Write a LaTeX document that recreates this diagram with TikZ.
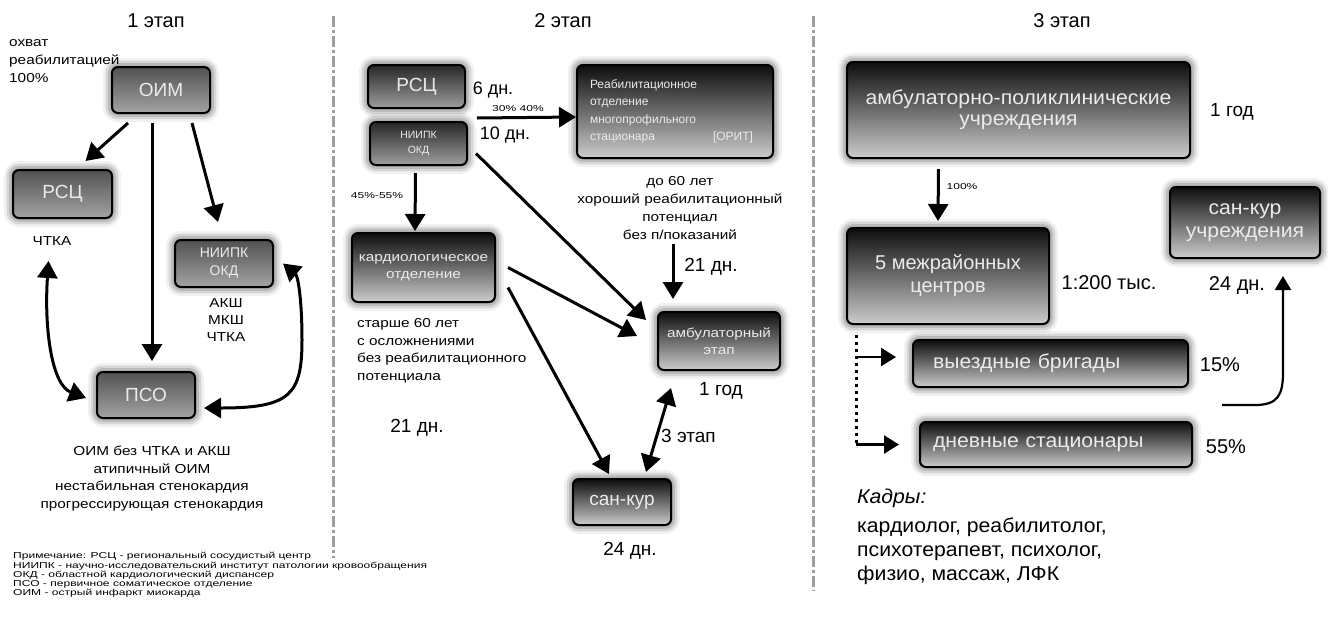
\documentclass[tikz,border=0pt]{standalone}
\usepackage{fontspec}
\setmainfont{Liberation Sans}
\newfontfamily\wf[FakeStretch=1.18]{Liberation Sans}
\newfontfamily\nf[FakeStretch=1.4]{Liberation Sans}
\newfontfamily\mf[FakeStretch=1.06]{Liberation Sans}
\usetikzlibrary{arrows.meta,shadows.blur}
\newcommand\fz[2]{\fontsize{#1}{#2}\selectfont}
\begin{document}
\begin{tikzpicture}[x=1pt,y=-1pt,
  glow/.style={blur shadow={shadow xshift=0pt,shadow yshift=0pt,shadow blur radius=9pt,shadow opacity=85}},
  lbox/.style={draw=black,line width=2pt,rounded corners=6pt,top color=black!68,bottom color=black!36,text=white!92!black,glow,inner sep=0pt,align=center},
  mbox/.style={lbox,top color=black!85,bottom color=black!38},
  dbox/.style={lbox,top color=black!95,bottom color=black!20},
  arr/.style={line width=3pt,-{Triangle[length=17pt,width=20pt]}},
  arrb/.style={line width=2.5pt,-{Triangle[length=15pt,width=18pt]}},
  arrc/.style={line width=2.2pt,-{Triangle[length=14pt,width=16pt]}},
  dbl/.style={line width=3pt,{Triangle[length=17pt,width=20pt]}-{Triangle[length=17pt,width=20pt]}},
  lab/.style={inner sep=0pt,align=center},
  divider/.style={draw=black!38,line width=3pt,dash pattern=on 11pt off 3pt on 3pt off 3pt}
]
\useasboundingbox (0,0) rectangle (1328,619);

% dividers
\draw[divider] (333,16) -- (333,558);
\draw[divider] (813,16) -- (813,591);

% ---------------- stage 1
\node[lab,font=\fz{20}{24}] (t1) at (156,21) {1 этап};
\node[lab,anchor=west,align=left,font=\wf\fz{13}{18}] (cov) at (9,61) {охват\\реабилитацией\\100\%};
\node[lbox,minimum width=98pt,minimum height=46pt,font=\fz{19}{22}] (oim) at (161,90) {ОИМ};
\node[lbox,minimum width=99pt,minimum height=48pt,font=\fz{19}{22}] (rsc1) at (62.5,194) {РСЦ};
\node[lab,font=\wf\fz{13}{17}] (chtka1) at (52,241) {ЧТКА};
\node[lbox,minimum width=98pt,minimum height=47pt,font=\fz{14}{18}] (niipk1) at (224,263.5) {НИИПК\\ОКД};
\node[lab,font=\wf\fz{13}{17}] (ops) at (226,320) {АКШ\\МКШ\\ЧТКА};
\node[lbox,minimum width=98pt,minimum height=46pt,font=\fz{19}{22}] (pso) at (146,395) {ПСО};
\node[lab,font=\wf\fz{13}{17.5}] (psotxt) at (152,478.5) {ОИМ без ЧТКА и АКШ\\атипичный ОИМ\\нестабильная стенокардия\\прогрессирующая стенокардия};
\node[lab,anchor=west,align=left,font=\nf\fz{8.6}{9.2}] (notes) at (13,575) {Примечание: РСЦ - региональный сосудистый центр\\НИИПК - научно-исследовательский институт патологии кровообращения\\ОКД - областной кардиологический диспансер\\ПСО - первичное соматическое отделение\\ОИМ - острый инфаркт миокарда};

\draw[arr] ([xshift=-33pt,yshift=-9pt]oim.south) -- ([xshift=23pt,yshift=8pt]rsc1.north);
\draw[arr] ([xshift=-9pt,yshift=-9pt]oim.south) -- ([xshift=6pt,yshift=10pt]pso.north);
\draw[arr] ([xshift=31pt,yshift=-9pt]oim.south) -- ([xshift=-6pt,yshift=17pt]niipk1.north);
\draw[dbl] ([xshift=-14pt,yshift=-42pt]rsc1.south) .. controls (44,330) and (52,385) .. ([xshift=-10pt,yshift=-3pt]pso.west);
\draw[dbl] ([xshift=9pt]niipk1.east) .. controls (298,276) and (302,300) .. (302,340) .. controls (302,395) and (290,408) .. ([xshift=8pt,yshift=-13pt]pso.east);

% ---------------- stage 2
\node[lab,font=\fz{20}{24}] (t2) at (563,21) {2 этап};
\node[mbox,minimum width=97pt,minimum height=43pt,font=\fz{19}{22}] (rsc2) at (416.5,86.5) {РСЦ};
\node[mbox,minimum width=97pt,minimum height=43pt,font=\fz{10.5}{15}] (niipk2) at (418.5,143.5) {НИИПК\\ОКД};
\node[lab,font=\fz{18}{22}] (d6) at (493,90) {6 дн.};
\node[lab,font=\fz{18}{22}] (d10) at (505,135) {10 дн.};
\node[lab,font=\nf\fz{8.6}{9}] (p3040) at (518,109) {30\% 40\%};
\node[dbox,minimum width=196pt,minimum height=93pt,text width=170pt,align=left,font=\fz{12}{17.5}] (reab) at (675,111.5) {Реабилитационное\\отделение\\многопрофильного\\стационара};
\node[lab,font=\fz{12}{14},text=white!92!black] (orit) at (733,137) {[ОРИТ]};
\draw[arr] ([xshift=11pt,yshift=-9pt]rsc2.south east) -- ([yshift=-5.5pt]reab.west);

\node[lab,font=\wf\fz{13}{18}] (crit) at (680,208.5) {до 60 лет\\хороший реабилитационный\\потенциал\\без п/показаний};
\node[lab,font=\fz{19}{22}] (d21a) at (711,267) {21 дн.};
\node[dbox,minimum width=122pt,minimum height=58pt,font=\wf\fz{13}{17}] (amb) at (719,341) {амбулаторный\\этап};
\draw[arr] ([xshift=-7pt,yshift=-4pt]crit.south) -- ([xshift=-46pt,yshift=12pt]amb.north);
\node[lab,font=\fz{19}{22}] (y1a) at (721,391) {1 год};
\node[dbox,minimum width=98pt,minimum height=46pt,font=\fz{19}{22}] (sankur) at (622,502) {сан-кур};
\node[lab,font=\fz{19}{22}] (d24a) at (630,551) {24 дн.};
\draw[dbl] ([xshift=-48pt,yshift=-17pt]amb.south) -- ([xshift=24pt,yshift=6pt]sankur.north);
\node[lab,anchor=west,font=\fz{19}{22}] (st3) at (661,436) {3 этап};

\node[lab,font=\nf\fz{8.6}{9}] (p4555) at (377,196) {45\%-55\%};
\node[dbox,minimum width=143pt,minimum height=69pt,font=\wf\fz{13}{16.7}] (kardio) at (423.5,267.5) {кардиологическое\\отделение};
\draw[arr] ([xshift=-3pt,yshift=-7pt]niipk2.south) -- ([xshift=-8.5pt,yshift=1pt]kardio.north);
\draw[arr] ([xshift=8pt,yshift=-10pt]niipk2.east) -- ([xshift=-11pt,yshift=21pt]amb.west);
\draw[arr] ([xshift=12pt]kardio.east) -- ([xshift=-20pt,yshift=5pt]amb.west);
\draw[arr] ([xshift=12pt,yshift=-20pt]kardio.east) -- ([xshift=-13pt,yshift=4pt]sankur.north);
\node[lab,anchor=west,align=left,font=\wf\fz{13}{17.5}] (old) at (357,350.5) {старше 60 лет\\с осложнениями\\без реабилитационного\\потенциала};
\node[lab,font=\fz{19}{22}] (d21b) at (417,428) {21 дн.};

% ---------------- stage 3
\node[lab,font=\fz{20}{24}] (t3) at (1062,21) {3 этап};
\node[dbox,minimum width=343pt,minimum height=96pt,font=\mf\fz{20}{21}] (apu) at (1018.5,110) {амбулаторно-поликлинические\\учреждения};
\node[lab,font=\fz{19}{22}] (y1b) at (1232,112) {1 год};
\node[dbox,minimum width=202pt,minimum height=96pt,font=\fz{20}{23}] (mc5) at (948,276) {5 межрайонных\\центров};
\draw[arr] ([xshift=-80pt,yshift=-10pt]apu.south) -- ([xshift=-10pt,yshift=6pt]mc5.north);
\node[lab,font=\nf\fz{8.6}{9}] (p100) at (962,187) {100\%};
\node[lab,font=\fz{20}{24}] (ratio) at (1109,283) {1:200 тыс.};
\node[dbox,minimum width=150pt,minimum height=71pt,font=\mf\fz{20}{23}] (sku) at (1245,222.5) {сан-кур\\учреждения};
\node[lab,font=\fz{20}{24}] (d24b) at (1237,286) {24 дн.};
\node[dbox,minimum width=275pt,minimum height=47pt,text width=235pt,align=left,font=\mf\fz{20}{23}] (vb) at (1050.5,363.5) {выездные бригады};
\node[lab,font=\fz{20}{24}] (p15) at (1220,365) {15\%};
\node[dbox,minimum width=272pt,minimum height=45pt,text width=246pt,align=left,font=\mf\fz{20}{23}] (ds) at (1056,444.5) {дневные стационары};
\node[lab,font=\fz{20}{24}] (p55) at (1226,447) {55\%};

\coordinate (dtop) at (856,335);
\coordinate (dbot) at (856,447);
\draw[line width=3pt,dash pattern=on 3pt off 4pt] (dtop) -- (dbot);
\coordinate (d1) at (856,357);
\coordinate (d2) at (856,444.5);
\draw[arrb] (d1) -- ([xshift=-16pt,yshift=6.5pt]vb.west);
\draw[arrb] (d2) -- ([xshift=-20pt]ds.west);
\coordinate (c1) at (1222,405);
\draw[arrc] (c1) -- (1255,405) .. controls (1278,405) and (1283,395) .. (1283,372) -- ([xshift=38pt,yshift=-17pt]sku.south);

\node[lab,anchor=west,font=\mf\itshape\fz{20}{24}] (kadry) at (857,498) {Кадры:};
\node[lab,anchor=west,align=left,font=\mf\fz{20}{24}] (staff) at (857,551.5) {кардиолог, реабилитолог,\\психотерапевт, психолог,\\физио, массаж, ЛФК};
\end{tikzpicture}
\end{document}
